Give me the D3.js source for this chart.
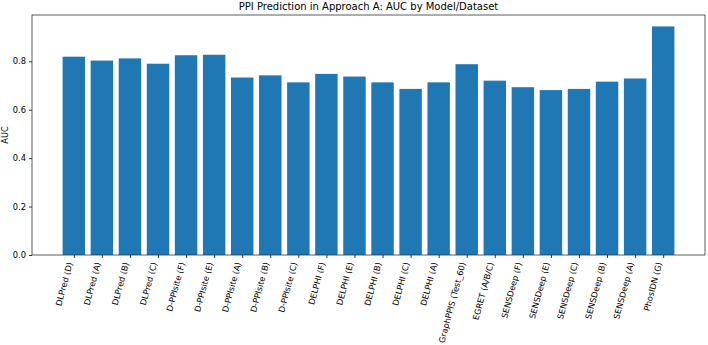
<!DOCTYPE html>
<html>
<head>
<meta charset="utf-8">
<script src="https://cdn.jsdelivr.net/npm/d3@7"></script>
<style>
  body { margin: 0; background: #fff; }
  text { font-family: "DejaVu Sans", sans-serif; fill: #000; }
</style>
</head>
<body>
<div id="chart"></div>
<script>
// values
var models = ["DLPred (D)", "DLPred (A)", "DLPred (B)", "DLPred (C)",
    "D-PPIsite (F)", "D-PPIsite (E)", "D-PPIsite (A)", "D-PPIsite (B)", "D-PPIsite (C)",
    "DELPHI (F)", "DELPHI (E)", "DELPHI (B)", "DELPHI (C)", "DELPHI (A)",
    "GraphPPIS (Test_60)", "EGRET (A/B/C)",
    "SENSDeep (F)", "SENSDeep (E)", "SENSDeep (C)", "SENSDeep (B)", "SENSDeep (A)",
    "PhosIDN (G)"];
var auc = [0.819, 0.803, 0.812, 0.790, 0.825, 0.827, 0.733, 0.742, 0.713,
    0.748, 0.737, 0.713, 0.686, 0.713, 0.788, 0.720,
    0.693, 0.681, 0.686, 0.716, 0.729, 0.944];
var yTicks = [0.0, 0.2, 0.4, 0.6, 0.8];

var W = 708, H = 345;
var mLeft = 32, mRight = 705, mTop = 15, mBottom = 255;
var tickFont = "8.3px";

var svg = d3.select("#chart").append("svg")
    .attr("width", W).attr("height", H);

// matplotlib style: bar width 0.8, 5% margins
var n = models.length;
var x = d3.scaleLinear().domain([-0.4 - 0.05 * (n - 0.2), n - 0.6 + 0.05 * (n - 0.2)])
    .range([mLeft, mRight]);
var y = d3.scaleLinear().domain([0, d3.max(auc) * 1.05]).range([mBottom, mTop]);

svg.selectAll("rect.bar")
    .data(auc)
    .enter()
    .append("rect")
    .attr("class", "bar")
    .attr("x", function(d, i) { return x(i - 0.4); })
    .attr("width", function() { return x(0.8) - x(0); })
    .attr("y", function(d) { return y(d); })
    .attr("height", function(d) { return y(0) - y(d); })
    .style("fill", "#1f77b4");

// y axis
var yAxis = svg.append("g")
    .attr("transform", "translate(" + mLeft + ",0)")
    .call(d3.axisLeft(y).tickValues(yTicks).tickFormat(d3.format(".1f"))
        .tickSizeOuter(0).tickSize(3).tickPadding(3));
yAxis.select(".domain").remove();
yAxis.selectAll("line").style("stroke", "#333");
yAxis.selectAll("text").style("font-size", tickFont).style("font-family", "DejaVu Sans, sans-serif");

// x axis
var xAxis = svg.append("g")
    .attr("transform", "translate(0," + mBottom + ")")
    .call(d3.axisBottom(x).tickValues(d3.range(n)).tickFormat(function(i) { return models[i]; })
        .tickSizeOuter(0).tickSize(3));
xAxis.select(".domain").remove();
xAxis.selectAll("line").style("stroke", "#333");
xAxis.selectAll("text")
    .style("font-size", tickFont)
    .style("font-family", "DejaVu Sans, sans-serif")
    .attr("text-anchor", "end")
    .attr("y", 0).attr("dy", 0)
    .attr("transform", "translate(-1.5,8) rotate(-75)");

// frame
svg.append("rect")
    .attr("x", mLeft).attr("y", mTop)
    .attr("width", mRight - mLeft).attr("height", mBottom - mTop)
    .style("fill", "none").style("stroke", "#333").style("stroke-width", 0.8);

svg.append("text")
    .attr("x", (mLeft + mRight) / 2).attr("y", 10)
    .attr("text-anchor", "middle")
    .style("font-size", "10px")
    .text("PPI Prediction in Approach A: AUC by Model/Dataset");

svg.append("text")
    .attr("transform", "translate(8," + ((mTop + mBottom) / 2) + ") rotate(-90)")
    .attr("text-anchor", "middle")
    .style("font-size", tickFont)
    .text("AUC");
</script>
</body>
</html>
